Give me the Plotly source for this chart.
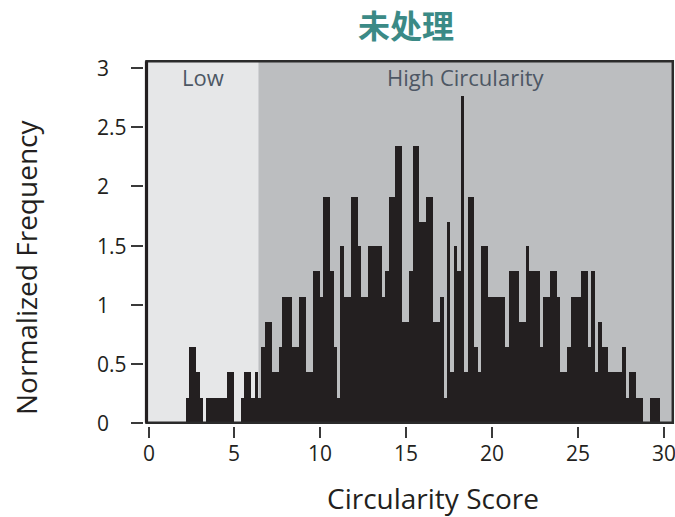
import numpy as np
import plotly.graph_objects as go

# Histogram of circularity scores (untreated), 0.2-wide bins from 0 to 30
bin_start = 0.0
bin_width = 0.2
norm_freq = [
    0, 0, 0, 0, 0, 0, 0, 0, 0, 0,
    0, 0.21, 0.64, 0.64, 0.43, 0.21, 0, 0.21, 0.21, 0.21,
    0.21, 0.21, 0.21, 0.43, 0.43, 0, 0, 0.21, 0.43, 0.43,
    0.21, 0.43, 0.21, 0.64, 0.85, 0.85, 0.43, 0.43, 0.64, 1.06,
    1.06, 1.06, 0.64, 0.64, 1.06, 1.06, 0.43, 0.43, 1.28, 1.28,
    1.06, 1.91, 1.91, 1.28, 0.64, 0.21, 1.49, 1.06, 1.06, 1.91,
    1.91, 1.49, 1.06, 1.06, 1.49, 1.49, 1.49, 1.49, 1.06, 1.28,
    1.91, 1.91, 2.34, 2.34, 0.85, 0.85, 1.28, 2.34, 2.34, 1.70,
    1.70, 1.91, 1.91, 0.85, 0.85, 1.06, 0.21, 1.70, 0.43, 1.49,
    1.28, 2.76, 0.43, 1.91, 1.91, 0.64, 0.43, 1.49, 1.49, 1.06,
    1.06, 1.06, 1.06, 1.06, 0.64, 1.28, 1.28, 1.28, 0.85, 0.85,
    1.49, 1.28, 1.28, 1.28, 0.64, 1.06, 1.06, 1.28, 1.28, 1.06,
    0.43, 0.43, 0.64, 1.06, 1.06, 1.06, 1.28, 1.28, 0.64, 1.28,
    0.43, 0.85, 0.64, 0.64, 0.43, 0.43, 0.43, 0.43, 0.64, 0.21,
    0.43, 0.43, 0.21, 0.21, 0, 0, 0.21, 0.21, 0.21, 0,
]

# Score ranges shaded behind the histogram
low_cutoff = 6.4
region_names = ["Low", "High Circularity"]

x_tick_vals = [0, 5, 10, 15, 20, 25, 30]
x_tick_text = ["0", "5", "10", "15", "20", "25", "30"]
y_tick_vals = [0, 0.5, 1, 1.5, 2, 2.5, 3]
y_tick_text = ["0", "0.5", "1", "1.5", "2", "2.5", "3"]

x_range = [-0.12, 30.52]
y_range = [0, 3.06]

bin_centers = bin_start + bin_width * (np.arange(len(norm_freq)) + 0.5)

FONT = "Open Sans"
INK = "#231f20"

fig = go.Figure()
fig.add_trace(go.Bar(
    x=bin_centers,
    y=norm_freq,
    width=bin_width,
    marker=dict(color=INK, line=dict(width=0)),
    hoverinfo="x+y",
))

shapes = [
    # light band for the low-circularity range
    dict(type="rect", xref="x", yref="y domain", x0=x_range[0], x1=low_cutoff,
         y0=0, y1=1, fillcolor="#e6e7e8", line=dict(width=0), layer="below"),
    # plot frame
    dict(type="rect", xref="x domain", yref="y domain", x0=0, x1=1, y0=0, y1=1,
         line=dict(color="#2b2b2b", width=2.5), fillcolor="rgba(0,0,0,0)", layer="above"),
    dict(type="line", xref="x domain", yref="y domain", x0=0, x1=0, y0=0, y1=1,
         line=dict(color=INK, width=3.2), layer="above"),
]

annotations = []
# left-aligned y tick labels
for v, t in zip(y_tick_vals, y_tick_text):
    annotations.append(dict(
        text=t, x=0.0252, xref="paper", xanchor="left",
        y=v, yref="y", yanchor="middle", showarrow=False,
        font=dict(family=FONT, size=21, color=INK),
    ))
# x tick labels, centred under their ticks
for v, t in zip(x_tick_vals, x_tick_text):
    annotations.append(dict(
        text=t, x=v, xref="x", xanchor="center",
        y=0.0096, yref="paper", yanchor="middle", showarrow=False,
        font=dict(family=FONT, size=21, color=INK),
    ))
# region labels
annotations.append(dict(text=region_names[0], x=3.17, y=2.93, xref="x", yref="y",
                        showarrow=False, font=dict(family=FONT, size=22, color="#4d5764")))
annotations.append(dict(text=region_names[1], x=18.48, y=2.93, xref="x", yref="y",
                        showarrow=False, font=dict(family=FONT, size=22, color="#4d5764")))
# axis titles
annotations.append(dict(text="Circularity Score", x=0.5933, y=-0.0983, xref="paper", yref="paper",
                        xanchor="center", yanchor="middle", showarrow=False,
                        font=dict(family=FONT, size=28, color=INK)))
annotations.append(dict(text="Normalized Frequency", x=-0.0908, y=0.4556, xref="paper", yref="paper",
                        xanchor="center", yanchor="middle", textangle=-90, showarrow=False,
                        font=dict(family=FONT, size=28, color=INK)))
# chart title
annotations.append(dict(text="<b>未处理</b>", x=0.5487, y=1.038, xref="paper", yref="paper",
                        xanchor="center", yanchor="middle", showarrow=False,
                        font=dict(family="Noto Sans CJK SC", size=32, color="#3b8a86")))

fig.update_layout(
    width=675, height=517,
    margin=dict(l=80, r=0, t=40, b=60, pad=0),
    paper_bgcolor="white",
    plot_bgcolor="#bcbec0",
    showlegend=False,
    bargap=0,
    shapes=shapes,
    annotations=annotations,
    xaxis=dict(
        domain=[0.11176, 0.99630], range=x_range, anchor="free", position=0.0755,
        tickvals=x_tick_vals, ticks="outside", ticklen=11, tickwidth=2, tickcolor="#3a3a3a",
        showticklabels=False, showgrid=False, zeroline=False, showline=False,
    ),
    yaxis=dict(
        domain=[0.08225, 0.94892], range=y_range, anchor="free", position=0.1059,
        tickvals=y_tick_vals, ticks="outside", ticklen=12, tickwidth=2, tickcolor="#3a3a3a",
        showticklabels=False, showgrid=False, zeroline=False, showline=False,
    ),
)

fig.write_html("out.html")
